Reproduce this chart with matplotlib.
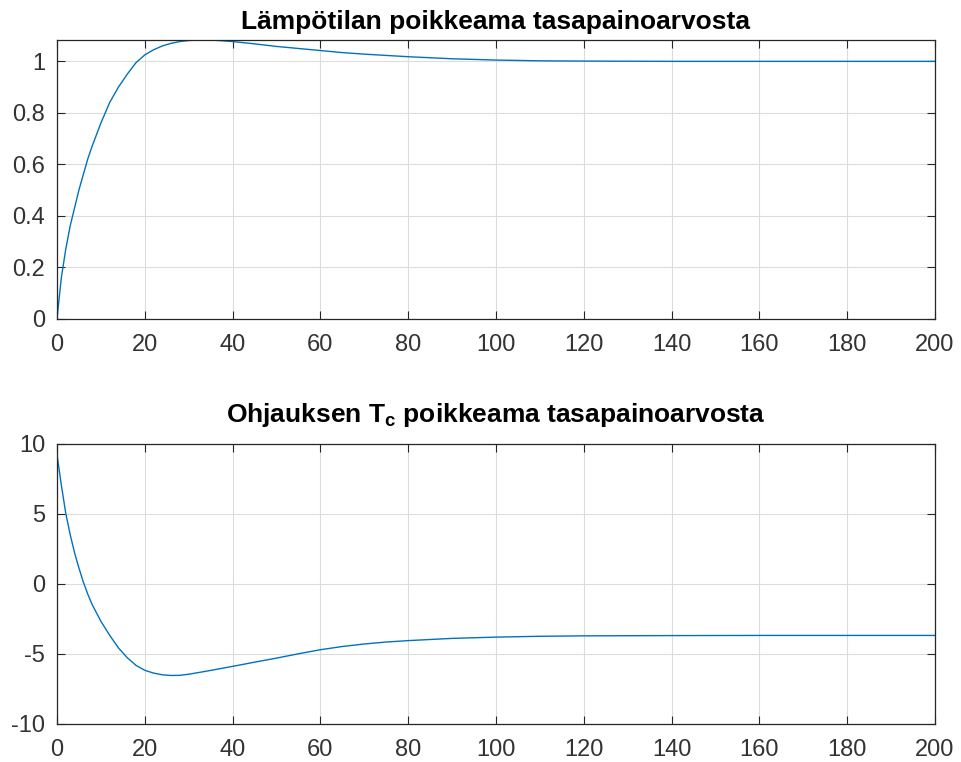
import matplotlib
matplotlib.use("Agg")
import matplotlib.pyplot as plt

plt.rcParams["font.family"] = ["Liberation Sans", "DejaVu Sans"]
plt.rcParams["mathtext.fontset"] = "custom"
plt.rcParams["mathtext.rm"] = "Liberation Sans"
plt.rcParams["mathtext.bf"] = "Liberation Sans:bold"

# Time samples (s)
t = [0, 1, 2, 3, 4, 5, 6, 7, 8, 10, 12, 14, 16, 18, 20, 22, 24, 26, 28, 30,
     33, 36, 40, 45, 50, 55, 60, 65, 70, 75, 80, 90, 100, 110, 120, 140,
     160, 180, 200]

# Temperature deviation from equilibrium
temp_dev = [0.0, 0.16, 0.27, 0.36, 0.43, 0.50, 0.56, 0.62, 0.67, 0.76, 0.84,
            0.90, 0.95, 0.995, 1.025, 1.045, 1.060, 1.070, 1.077, 1.081,
            1.083, 1.082, 1.077, 1.068, 1.058, 1.050, 1.042, 1.034, 1.028,
            1.023, 1.018, 1.010, 1.005, 1.002, 1.001, 1.0, 1.0, 1.0, 1.0]

# Control input Tc deviation from equilibrium
tc_dev = [9.2, 7.0, 5.0, 3.5, 2.2, 1.1, 0.1, -0.75, -1.5, -2.7, -3.7, -4.6,
          -5.3, -5.85, -6.2, -6.4, -6.52, -6.57, -6.56, -6.48, -6.32, -6.15,
          -5.92, -5.62, -5.33, -5.02, -4.73, -4.50, -4.32, -4.18, -4.08,
          -3.92, -3.83, -3.77, -3.74, -3.72, -3.71, -3.71, -3.71]

x_ticks = [0, 20, 40, 60, 80, 100, 120, 140, 160, 180, 200]
top_yticks = [0, 0.2, 0.4, 0.6, 0.8, 1]
top_ylabels = ["0", "0.2", "0.4", "0.6", "0.8", "1"]
bot_yticks = [-10, -5, 0, 5, 10]

titles = ["Lämpötilan poikkeama tasapainoarvosta",
          r"Ohjauksen $\mathbf{T_c}$ poikkeama tasapainoarvosta"]

line_color = "#0072BD"
frame_color = "#262626"
text_color = "#333333"

W, H = 962, 762
fig = plt.figure(figsize=(W / 100, H / 100), dpi=100)

def rect(l, r, top, bot):
    return [l / W, 1 - bot / H, (r - l) / W, (bot - top) / H]

ax1 = fig.add_axes(rect(57, 935, 40, 318.5))
ax2 = fig.add_axes(rect(57, 935, 443.5, 723.5))

for ax in (ax1, ax2):
    ax.set_xlim(0, 200)
    ax.set_xticks(x_ticks)
    ax.set_xticklabels([str(v) for v in x_ticks])
    ax.grid(True, color="#dcdcdc", linewidth=0.8)
    ax.set_axisbelow(True)
    ax.tick_params(direction="in", length=6, width=0.8, colors=frame_color,
                   labelsize=17, labelcolor=text_color,
                   top=True, right=True)
    ax.tick_params(axis="y", pad=8.5)
    ax.tick_params(axis="x", pad=11)
    for s in ax.spines.values():
        s.set_color(frame_color)
        s.set_linewidth(0.9)

ax1.plot(t, temp_dev, color=line_color, linewidth=1.0)
ax1.set_ylim(0, max(temp_dev))
ax1.set_yticks(top_yticks)
ax1.set_yticklabels(top_ylabels)

ax2.plot(t, tc_dev, color=line_color, linewidth=1.0)
ax2.set_ylim(-10, 10)
ax2.set_yticks(bot_yticks)
ax2.set_yticklabels([str(v) for v in bot_yticks])

# Titles placed on their baselines above each panel
cx = (57 + 935) / 2 / W
fig.text(cx, 1 - 29 / H, titles[0], ha="center", va="baseline",
         fontsize=19, fontweight="bold", color="black")
fig.text(cx, 1 - 422 / H, titles[1], ha="center", va="baseline",
         fontsize=19, fontweight="bold", color="black")

fig.savefig("out.png", dpi=100, facecolor="white")
